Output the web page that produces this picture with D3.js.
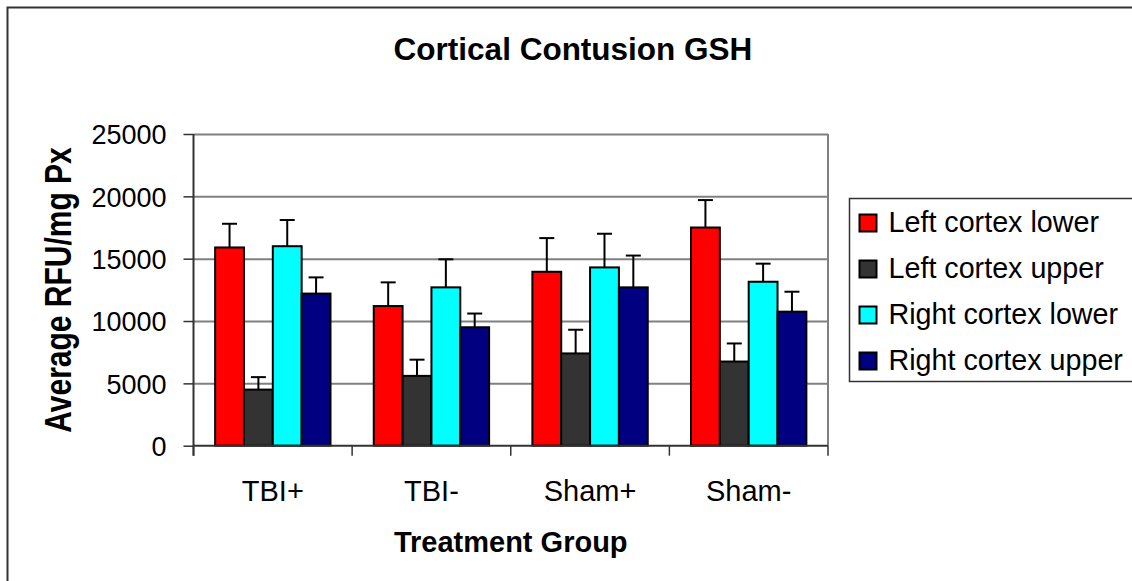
<!DOCTYPE html>
<html>
<head>
<meta charset="utf-8">
<script src="https://cdn.jsdelivr.net/npm/d3@7"></script>
<style>
  body { margin: 0; background: #fff; }
  svg text { font-family: "Liberation Sans", Arial, sans-serif; fill: #000; }
</style>
</head>
<body>
<div id="chart"></div>
<script>
// Data
const groups = ["TBI+", "TBI-", "Sham+", "Sham-"];
const seriesNames = ["Left cortex lower", "Left cortex upper", "Right cortex lower", "Right cortex upper"];
const seriesColors = ["#ff0000", "#333333", "#00ffff", "#000080"];

const leftLower = [15900, 11200, 13950, 17500];
const leftLowerErr = [1900, 1900, 2700, 2200];
const leftUpper = [4500, 5600, 7400, 6750];
const leftUpperErr = [1000, 1300, 1900, 1450];
const rightLower = [16000, 12700, 14300, 13150];
const rightLowerErr = [2100, 2250, 2700, 1450];
const rightUpper = [12200, 9500, 12700, 10750];
const rightUpperErr = [1300, 1100, 2550, 1600];

const yTicks = [0, 5000, 10000, 15000, 20000, 25000];

// Build rows for drawing
const seriesValues = [leftLower, leftUpper, rightLower, rightUpper];
const seriesErrors = [leftLowerErr, leftUpperErr, rightLowerErr, rightUpperErr];
const rows = [];
groups.forEach((g, gi) => {
    seriesNames.forEach((s, si) => {
        rows.push({ group: g, series: s, value: seriesValues[si][gi], err: seriesErrors[si][gi], color: seriesColors[si] });
    });
});

// svg setup
const width = 1132;
const height = 581;
const plot = { left: 193.5, right: 828, top: 134, bottom: 445.7 };

const svg = d3.select('#chart').append('svg')
    .attr('width', width)
    .attr('height', height);

// outer chart border (runs off the right and bottom edges)
svg.append('rect')
    .attr('x', 7.5).attr('y', 7.5)
    .attr('width', 1160).attr('height', 620)
    .attr('fill', 'none')
    .attr('stroke', '#333')
    .attr('stroke-width', 2);

// scales
const x0 = d3.scaleBand().domain(groups).range([plot.left, plot.right]);
const x1 = d3.scaleBand().domain(seriesNames).range([0, x0.bandwidth()]).paddingOuter(0.75);
const y = d3.scaleLinear().domain([0, 25000]).range([plot.bottom, plot.top]);

// gridlines
svg.append('g')
    .attr('transform', 'translate(' + plot.left + ',0)')
    .call(d3.axisLeft(y).tickValues(yTicks.slice(1)).tickSize(-(plot.right - plot.left)).tickFormat(''))
    .call(g => g.select('.domain').remove())
    .selectAll('line')
    .attr('stroke', '#808080')
    .attr('stroke-width', 2);

// right border of plot area
svg.append('line')
    .attr('x1', plot.right).attr('x2', plot.right)
    .attr('y1', plot.top).attr('y2', plot.bottom)
    .attr('stroke', '#808080').attr('stroke-width', 2);

// bars
svg.append('g').selectAll('rect')
    .data(rows)
    .enter().append('rect')
    .attr('x', d => x0(d.group) + x1(d.series))
    .attr('y', d => y(d.value))
    .attr('width', x1.bandwidth())
    .attr('height', d => y(0) - y(d.value))
    .attr('fill', d => d.color)
    .attr('stroke', '#000')
    .attr('stroke-width', 2);

// error bars (upper only)
const errG = svg.append('g').attr('stroke', '#000').attr('stroke-width', 2);
errG.selectAll('line.v')
    .data(rows)
    .enter().append('line')
    .attr('class', 'v')
    .attr('x1', d => x0(d.group) + x1(d.series) + x1.bandwidth() / 2)
    .attr('x2', d => x0(d.group) + x1(d.series) + x1.bandwidth() / 2)
    .attr('y1', d => y(d.value))
    .attr('y2', d => y(d.value + d.err));
errG.selectAll('line.cap')
    .data(rows)
    .enter().append('line')
    .attr('class', 'cap')
    .attr('x1', d => x0(d.group) + x1(d.series) + x1.bandwidth() / 2 - 7.5)
    .attr('x2', d => x0(d.group) + x1(d.series) + x1.bandwidth() / 2 + 7.5)
    .attr('y1', d => y(d.value + d.err))
    .attr('y2', d => y(d.value + d.err));

// y axis
const yAxis = svg.append('g')
    .attr('transform', 'translate(' + plot.left + ',0)')
    .call(d3.axisLeft(y).tickValues(yTicks).tickFormat(d3.format('d'))
        .tickSize(10).tickPadding(17).tickSizeOuter(0));
yAxis.select('.domain').attr('stroke', '#333').attr('stroke-width', 2)
    .attr('d', 'M0,' + plot.top + 'V' + (plot.bottom + 10));
yAxis.selectAll('line').attr('stroke', '#333').attr('stroke-width', 1.5);
yAxis.selectAll('text')
    .style('font-size', '27px')
    .attr('dy', '0.36em');

// x axis
const xAxis = svg.append('g')
    .attr('transform', 'translate(0,' + plot.bottom + ')')
    .call(d3.axisBottom(x0).tickSize(0).tickSizeOuter(0));
xAxis.select('.domain').attr('stroke', '#333').attr('stroke-width', 2)
    .attr('d', 'M' + plot.left + ',0H' + plot.right);
xAxis.selectAll('text')
    .style('font-size', '29px')
    .attr('y', 55)
    .attr('dy', 0);

// category boundary ticks
svg.append('g').selectAll('line')
    .data(groups.concat(['end']))
    .enter().append('line')
    .attr('x1', (d, i) => plot.left + i * x0.step())
    .attr('x2', (d, i) => plot.left + i * x0.step())
    .attr('y1', plot.bottom)
    .attr('y2', plot.bottom + 10)
    .attr('stroke', '#333')
    .attr('stroke-width', 1.5);

// title
svg.append('text')
    .attr('x', 573).attr('y', 60)
    .attr('text-anchor', 'middle')
    .style('font-size', '31.5px')
    .style('font-weight', 'bold')
    .text('Cortical Contusion GSH');

// x axis title
svg.append('text')
    .attr('x', (plot.left + plot.right) / 2).attr('y', 551.7)
    .attr('text-anchor', 'middle')
    .style('font-size', '29px')
    .style('font-weight', 'bold')
    .text('Treatment Group');

// y axis title
svg.append('text')
    .attr('transform', 'translate(71,290) rotate(-90) scale(1,1.25)')
    .attr('text-anchor', 'middle')
    .style('font-size', '30px')
    .style('font-weight', 'bold')
    .text('Average RFU/mg Px');

// legend
const legend = svg.append('g').attr('transform', 'translate(849.5,198.5)');
legend.append('rect')
    .attr('width', 300).attr('height', 183)
    .attr('fill', '#fff')
    .attr('stroke', '#333')
    .attr('stroke-width', 1.5);

const legendItem = legend.selectAll('g.item')
    .data(seriesNames)
    .enter().append('g')
    .attr('class', 'item')
    .attr('transform', (d, i) => 'translate(0,' + (i * 46) + ')');

legendItem.append('rect')
    .attr('x', 10).attr('y', 16)
    .attr('width', 17).attr('height', 17)
    .attr('fill', (d, i) => seriesColors[i])
    .attr('stroke', '#000')
    .attr('stroke-width', 2);

legendItem.append('text')
    .attr('x', 39).attr('y', 33)
    .style('font-size', '28.7px')
    .text(d => d);
</script>
</body>
</html>
